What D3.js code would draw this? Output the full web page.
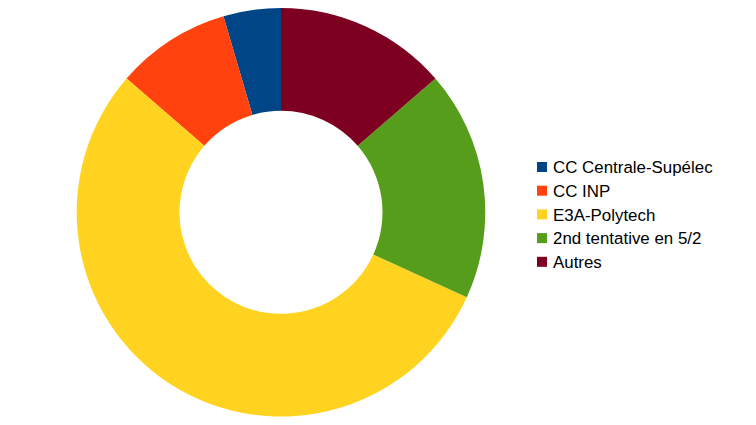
<!DOCTYPE html>
<html><head><meta charset="utf-8">
<script src="https://cdn.jsdelivr.net/npm/d3@7"></script>
<style>html,body{margin:0;padding:0;background:#fff;}</style>
</head><body>
<svg id="chart" width="756" height="425"></svg>
<script>
const categories = ["CC Centrale-Supélec", "CC INP", "E3A-Polytech", "2nd tentative en 5/2", "Autres"];
const values = [1, 2, 12, 4, 3];
const colors = ["#004586", "#ff420e", "#ffd320", "#579d1c", "#7e0021"];

const svg = d3.select("#chart");
const cx = 281, cy = 212.3, R = 204.3, r = 101.5;

const pie = d3.pie().sort(null).value(d => d.v)
  .startAngle(0).endAngle(-2 * Math.PI);
const arcs = pie(categories.map((c, i) => ({c, v: values[i], col: colors[i]})));
const arc = d3.arc().innerRadius(r).outerRadius(R);

svg.append("g").attr("transform", `translate(${cx},${cy})`)
  .selectAll("path").data(arcs).join("path")
  .attr("d", arc).attr("fill", d => d.data.col);

const leg = svg.append("g").attr("transform", "translate(537,162)");
const row = leg.selectAll("g").data(categories).join("g")
  .attr("transform", (d, i) => `translate(0,${i * 23.7})`);
row.append("rect").attr("width", 10).attr("height", 10).attr("fill", (d, i) => colors[i]);
row.append("text").attr("x", 16).attr("y", 5.3).attr("dy", "0.36em")
  .attr("font-family", "Liberation Sans, Arial, sans-serif").attr("font-size", 16.9)
  .attr("fill", "#000").text(d => d);
</script>
</body></html>
